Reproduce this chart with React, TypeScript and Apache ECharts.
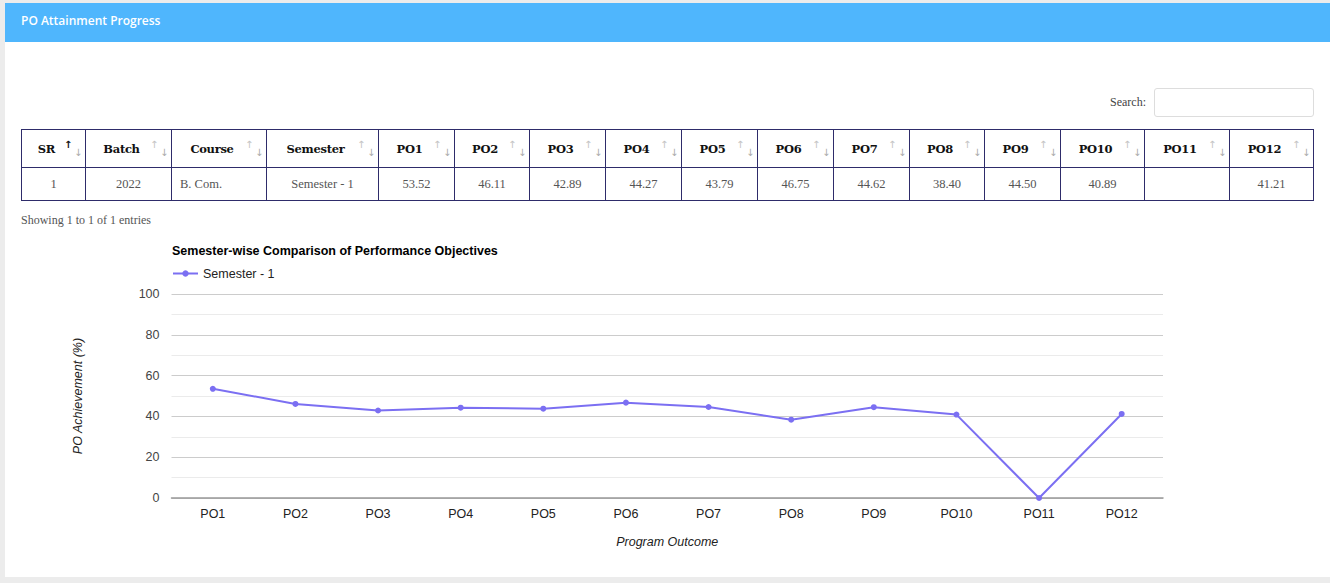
import React, { useEffect, useRef } from "react";
import * as echarts from "echarts";

const categories = ["PO1", "PO2", "PO3", "PO4", "PO5", "PO6", "PO7", "PO8", "PO9", "PO10", "PO11", "PO12"];
const semester1 = [53.52, 46.11, 42.89, 44.27, 43.79, 46.75, 44.62, 38.4, 44.5, 40.89, 0, 41.21];
const tableValues = ["53.52", "46.11", "42.89", "44.27", "43.79", "46.75", "44.62", "38.40", "44.50", "40.89", "", "41.21"];
const yTicks = [0, 20, 40, 60, 80, 100];

const colWidths = [64, 86, 95, 112, 76, 75, 76, 76, 76, 76, 76, 75, 76, 84, 85, 84];
const headers = ["SR", "Batch", "Course", "Semester", ...categories];
const rowStart = ["1", "2022", "B. Com.", "Semester - 1"];

const LINE = "#7b6ff2";

function SortIcon({ active }: { active?: boolean }) {
  const base: React.CSSProperties = { position: "absolute", fontSize: 10, fontFamily: "DejaVu Sans", lineHeight: "10px", height: 10 };
  return (
    <>
      <span style={{ ...base, right: 13, top: 10, color: active ? "#111" : "#c4c4c4", fontWeight: active ? 700 : 400 }}>↑</span>
      <span style={{ ...base, right: 3, top: 18, color: "#aaa", fontWeight: 400 }}>↓</span>
    </>
  );
}

function Chart() {
  const ref = useRef<HTMLDivElement>(null);
  useEffect(() => {
    if (!ref.current) return;
    const chart = echarts.init(ref.current, null, { renderer: "svg" });
    chart.setOption({
      animation: false,
      title: {
        text: "Semester-wise Comparison of Performance Objectives",
        left: 167,
        top: 9,
        textStyle: { fontFamily: "Arial, Liberation Sans", fontSize: 12.5, fontWeight: "bold", color: "#000" },
      },
      legend: {
        left: 167,
        top: 32,
        itemWidth: 25,
        itemHeight: 8,
        itemGap: 10,
        textStyle: { fontFamily: "Arial, Liberation Sans", fontSize: 12.5, color: "#222" },
        data: ["Semester - 1"],
      },
      grid: { left: 171.5, right: 167, top: 64, bottom: 72, containLabel: false },
      xAxis: {
        type: "category",
        data: categories,
        boundaryGap: true,
        name: "Program Outcome",
        nameLocation: "middle",
        nameGap: 37,
        nameTextStyle: { fontFamily: "Arial, Liberation Sans", fontSize: 12.5, fontStyle: "italic", color: "#222" },
        axisLine: { lineStyle: { color: "#999", width: 1.5 } },
        axisTick: { show: false },
        axisLabel: { fontFamily: "Arial, Liberation Sans", fontSize: 12.5, color: "#222", margin: 9 },
      },
      yAxis: {
        type: "value",
        min: 0,
        max: 100,
        interval: 20,
        name: "PO Achievement (%)",
        nameLocation: "middle",
        nameGap: 87,
        nameRotate: 90,
        nameTextStyle: { fontFamily: "Arial, Liberation Sans", fontSize: 12.5, fontStyle: "italic", color: "#222" },
        axisLine: { show: false },
        axisTick: { show: false },
        axisLabel: {
          fontFamily: "Arial, Liberation Sans",
          fontSize: 12.5,
          color: "#444",
          margin: 12,
          formatter: (v: number) => (yTicks.includes(v) ? String(v) : ""),
        },
        splitLine: { lineStyle: { color: "#cccccc" } },
        minorTick: { show: false, splitNumber: 2 },
        minorSplitLine: { show: true, lineStyle: { color: "#ebebeb" } },
      },
      series: [
        {
          name: "Semester - 1",
          type: "line",
          data: semester1,
          symbol: "circle",
          symbolSize: 6,
          itemStyle: { color: LINE },
          lineStyle: { color: LINE, width: 2 },
        },
      ],
    });
    return () => chart.dispose();
  }, []);
  return <div ref={ref} style={{ position: "absolute", left: 0, top: 230, width: 1330, height: 340 }} />;
}

export default function App() {
  const border = "1px solid #2e2c6a";
  return (
    <div style={{ position: "fixed", left: 0, top: 0, width: 1330, height: 583, background: "#ececec", overflow: "hidden" }}>
      <div style={{ position: "absolute", left: 5, top: 3, width: 1325, height: 574, background: "#fff" }}>
        <div style={{ height: 39, background: "#4fb6fd", color: "#fff", fontFamily: "Open Sans", fontWeight: 600, fontSize: 12, lineHeight: "36px", paddingLeft: 16 }}>
          PO Attainment Progress
        </div>
      </div>
      <div style={{ position: "absolute", left: 1110, top: 95, fontFamily: "Liberation Serif", fontSize: 12, color: "#444" }}>Search:</div>
      <div style={{ position: "absolute", left: 1154, top: 88, width: 158, height: 27, border: "1px solid #ddd", borderRadius: 3, background: "#fff" }} />
      <table
        style={{ position: "absolute", left: 21, top: 129, borderCollapse: "collapse", tableLayout: "fixed", width: 1292, fontFamily: "Liberation Serif" }}
      >
        <colgroup>
          {colWidths.map((w, i) => (
            <col key={i} style={{ width: w }} />
          ))}
        </colgroup>
        <tbody>
          <tr style={{ height: 38 }}>
            {headers.map((h, i) => (
              <th
                key={h}
                style={{ border, position: "relative", fontSize: 13, fontWeight: 700, color: "#111", textAlign: "center", padding: "0 14px 0 0", fontFamily: "DejaVu Serif", letterSpacing: -0.3 }}
              >
                <span style={{ fontSize: 11.5 }}>{h}</span>
                <SortIcon active={i === 0} />
              </th>
            ))}
          </tr>
          <tr style={{ height: 33 }}>
            {[...rowStart, ...tableValues].map((v, i) => (
              <td
                key={i}
                style={{ border, fontSize: 12.5, color: "#555", textAlign: i === 2 ? "left" : "center", padding: i === 2 ? "0 0 0 8px" : 0 }}
              >
                {v}
              </td>
            ))}
          </tr>
        </tbody>
      </table>
      <div style={{ position: "absolute", left: 21, top: 213, fontFamily: "Liberation Serif", fontSize: 12, color: "#555" }}>
        Showing 1 to 1 of 1 entries
      </div>
      <Chart />
    </div>
  );
}
